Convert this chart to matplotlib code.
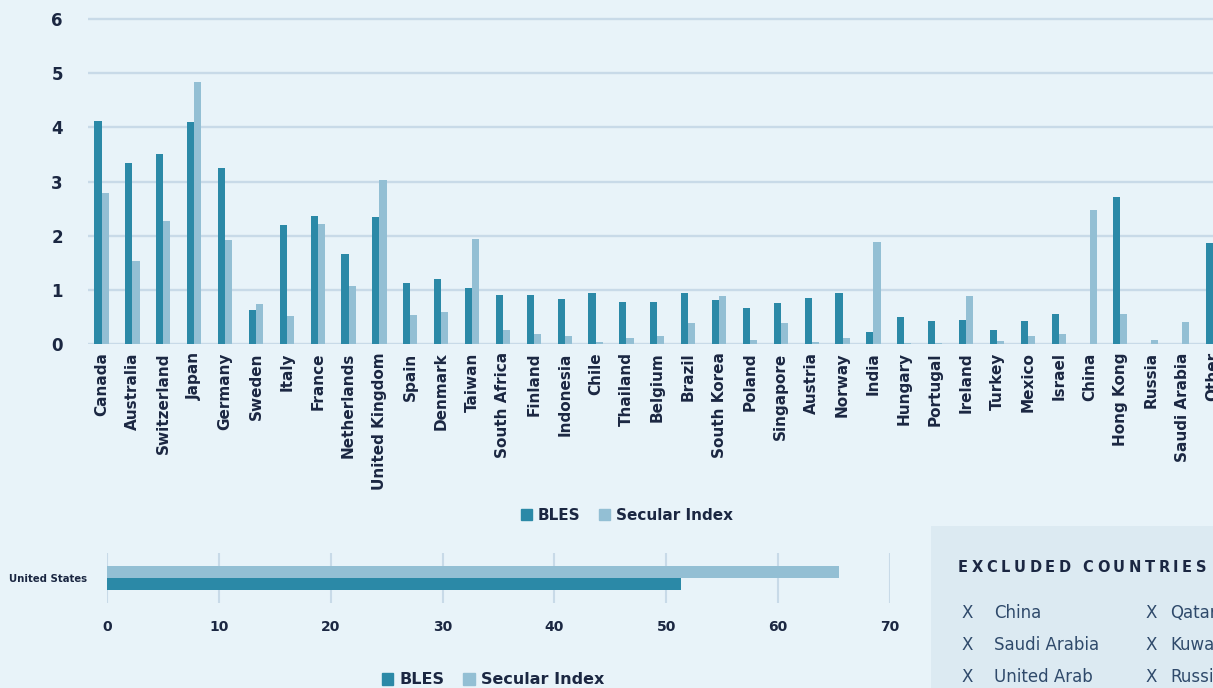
import matplotlib
matplotlib.use("Agg")
import matplotlib.pyplot as plt
from matplotlib.patches import Rectangle, Patch
import numpy as np

countries = ["Canada", "Australia", "Switzerland", "Japan", "Germany", "Sweden",
             "Italy", "France", "Netherlands", "United Kingdom", "Spain", "Denmark",
             "Taiwan", "South Africa", "Finland", "Indonesia", "Chile", "Thailand",
             "Belgium", "Brazil", "South Korea", "Poland", "Singapore", "Austria",
             "Norway", "India", "Hungary", "Portugal", "Ireland", "Turkey", "Mexico",
             "Israel", "China", "Hong Kong", "Russia", "Saudi Arabia", "Other"]
bles = [4.12, 3.34, 3.50, 4.09, 3.25, 0.63, 2.19, 2.37, 1.66, 2.34, 1.13, 1.20,
        1.03, 0.90, 0.90, 0.84, 0.94, 0.78, 0.77, 0.94, 0.81, 0.66, 0.75, 0.85,
        0.94, 0.23, 0.50, 0.43, 0.44, 0.26, 0.43, 0.56, 0.0, 2.71, 0.0, 0.0, 1.86]
secular = [2.79, 1.53, 2.27, 4.83, 1.92, 0.74, 0.51, 2.22, 1.08, 3.03, 0.54, 0.59,
           1.93, 0.25, 0.18, 0.14, 0.04, 0.12, 0.15, 0.39, 0.89, 0.07, 0.39, 0.03,
           0.11, 1.89, 0.02, 0.02, 0.88, 0.05, 0.15, 0.19, 2.47, 0.56, 0.07, 0.40, 0.93]

us_label = "United States"
us_bles = 51.35
us_secular = 65.4

excluded_title = "EXCLUDED COUNTRIES"
excluded_left = ["China", "Saudi Arabia", "United Arab"]
excluded_right = ["Qatar", "Kuwait", "Russia"]

dark = "#2b89a7"
light = "#93bfd4"
navy = "#1b2742"
slate = "#2f4a6b"
grid_c = "#c8dae8"
bg = "#e8f3f9"

W, H = 1213, 688
fig = plt.figure(figsize=(W / 100, H / 100), dpi=100, facecolor=bg)

# top chart
ax = fig.add_axes([88 / W, 1 - 344 / H, 1 - 88 / W, (344 - 16.3) / H])
ax.set_facecolor(bg)
x = np.arange(len(countries))
bw = 0.23
ax.bar(x - bw / 2, bles, bw, color=dark, zorder=3)
ax.bar(x + bw / 2, secular, bw, color=light, zorder=3)
ax.set_xlim(-0.44, 35.27)
ax.set_ylim(0, 6.05)
ax.set_yticks(range(7))
for v in range(7):
    ax.axhline(v, color=grid_c, lw=1.7, zorder=1)
for s in ax.spines.values():
    s.set_visible(False)
ax.set_xticks(x)
ax.set_xticklabels(countries, rotation=90, fontsize=11, fontweight="bold", color=navy)
ax.tick_params(axis="x", length=0, pad=6)
ax.tick_params(axis="y", length=0, pad=18, labelsize=12, labelcolor=navy)
for t in ax.get_yticklabels():
    t.set_fontweight("bold")

handles = [Patch(color=dark, label="BLES"), Patch(color=light, label="Secular Index")]
fig.legend(handles=handles, loc="center", bbox_to_anchor=(627 / W, 1 - 515 / H),
           ncol=2, frameon=False, handlelength=0.7, handleheight=0.7,
           handletextpad=0.4, columnspacing=1.2,
           prop={"weight": "bold", "size": 11}, labelcolor=navy)

# United States chart
ax2 = fig.add_axes([107 / W, 1 - 603 / H, (890 - 107) / W, 50 / H])
ax2.set_facecolor(bg)
ax2.barh(0.24, us_secular, 0.48, color=light, zorder=3)
ax2.barh(-0.24, us_bles, 0.48, color=dark, zorder=3)
ax2.set_xlim(0, 70)
ax2.set_ylim(-1, 1)
ax2.set_xticks(range(0, 71, 10))
ax2.grid(axis="x", color=grid_c, lw=1.5, zorder=1)
ax2.set_yticks([0])
ax2.set_yticklabels([us_label], fontsize=7.3, fontweight="bold", color=navy)
for s in ax2.spines.values():
    s.set_visible(False)
ax2.tick_params(axis="x", length=0, pad=12, labelsize=10, labelcolor=navy)
ax2.tick_params(axis="y", length=0, pad=14)
for t in ax2.get_xticklabels():
    t.set_fontweight("bold")

fig.legend(handles=handles, loc="center", bbox_to_anchor=(493 / W, 1 - 680 / H),
           ncol=2, frameon=False, handlelength=0.7, handleheight=0.7,
           handletextpad=0.4, columnspacing=1.2,
           prop={"weight": "bold", "size": 11.5}, labelcolor=navy)

# excluded countries box
fig.patches.append(Rectangle((931 / W, 0), 1, 1 - 526 / H, transform=fig.transFigure,
                             facecolor="#dceaf2", edgecolor="none", zorder=0))

# letter-spaced heading, one character at a time
renderer = fig.canvas.get_renderer()
xpos = 958
for ch in excluded_title:
    t = fig.text(xpos / W, 1 - 568 / H, ch, fontsize=10.5, fontweight="bold",
                 color=navy, va="center", ha="left")
    if ch == " ":
        xpos += 8
    else:
        xpos += t.get_window_extent(renderer).width + 3.6

rows_y = [613, 645, 677]
for name, yy in zip(excluded_left, rows_y):
    fig.text(961 / W, 1 - yy / H, "X", fontsize=12, color=slate, va="center")
    fig.text(994 / W, 1 - yy / H, name, fontsize=12, color=slate, va="center")
for name, yy in zip(excluded_right, rows_y):
    fig.text(1145 / W, 1 - yy / H, "X", fontsize=12, color=slate, va="center")
    fig.text(1170 / W, 1 - yy / H, name, fontsize=12, color=slate, va="center")

fig.savefig("out.png", dpi=100, facecolor=bg)
